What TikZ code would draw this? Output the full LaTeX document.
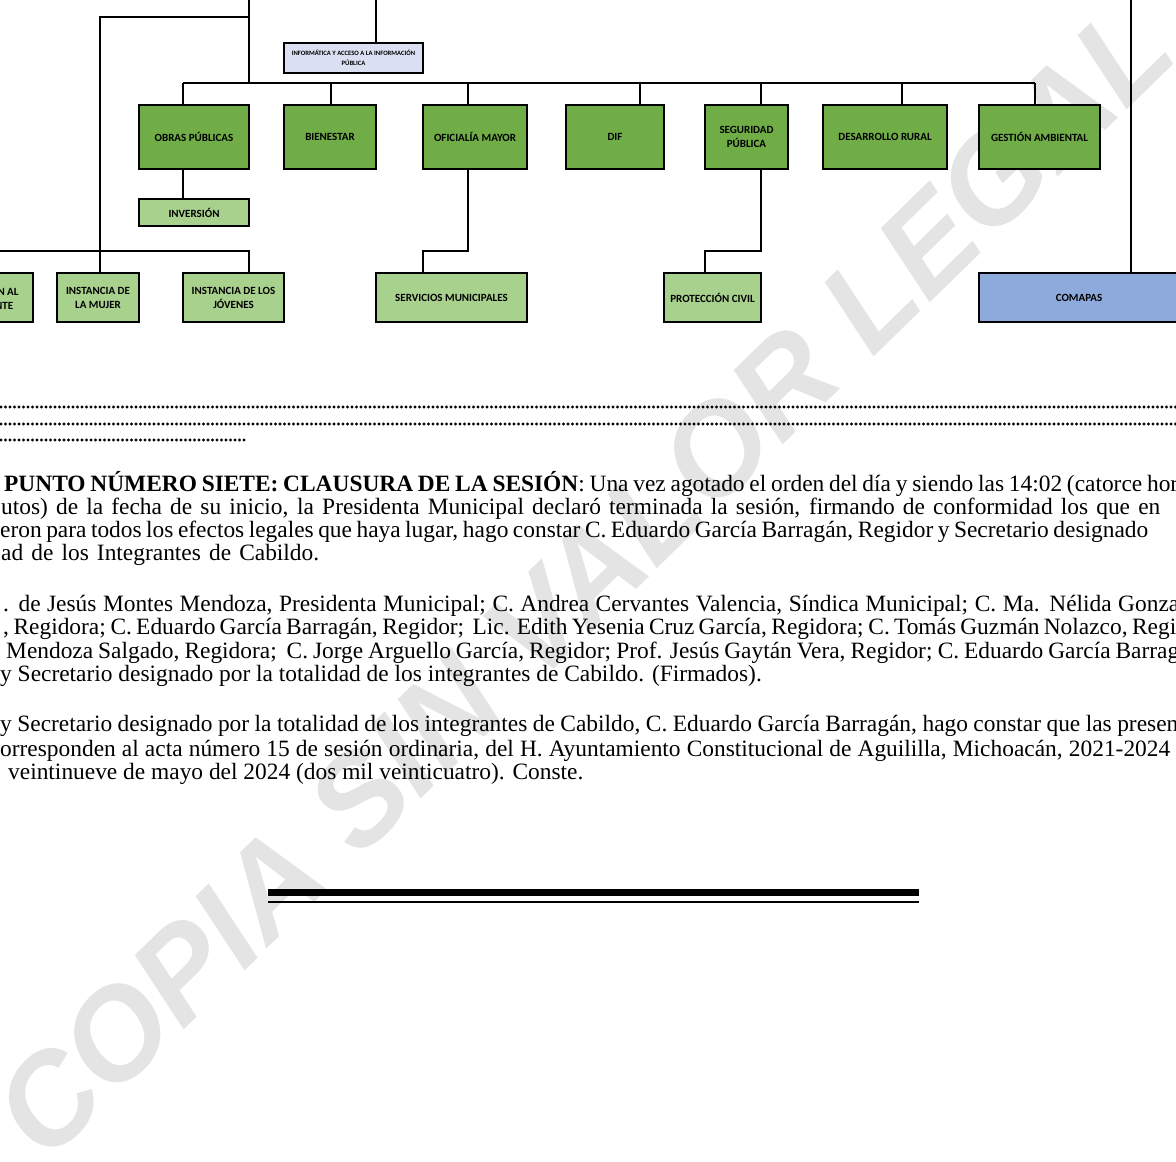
\documentclass[tikz,border=0pt]{standalone}
\usepackage{fontspec}
\setmainfont{Liberation Serif}
\newfontfamily\chartfont{Carlito}
\newfontfamily\markfont{Liberation Sans}
\definecolor{dkgreen}{HTML}{70AD47}
\definecolor{ltgreen}{HTML}{A9D18E}
\definecolor{lavend}{HTML}{DAE0F2}
\definecolor{comblue}{HTML}{8EA9DB}
\definecolor{markgray}{HTML}{E4E4E4}
\newcommand{\fitline}[2]{\makebox[#1pt][s]{#2}}
\tikzset{
  orgbox/.style={draw=black, line width=1.3pt, inner sep=0pt, align=center,
    font=\chartfont\bfseries\fontsize{11}{14}\selectfont},
  mainbox/.style={orgbox, fill=dkgreen, minimum height=64pt},
  subbox/.style={orgbox, fill=ltgreen},
  link/.style={line width=1.3pt},
  dotline/.style={line width=3.2pt, line cap=round, dash pattern=on 0pt off 4.5pt},
  txtline/.style={anchor=base west, inner sep=0pt, font=\fontsize{23.4}{23}\selectfont}
}
\begin{document}
\begin{tikzpicture}[x=1pt, y=-1pt]
	\useasboundingbox (0,0) rectangle (1176,1162);
	\clip (0,0) rectangle (1176,1162);
	% watermark
	\node[rotate=44.3, inner sep=0pt, text=markgray,
	  font=\markfont\bfseries\itshape\fontsize{127}{127}\selectfont] (wm) at (583,580) {COPIA SIN VALOR LEGAL};
	% free ends coming from above
	\coordinate (upA) at (249,0);
	\coordinate (upB) at (376,0);
	\coordinate (upC) at (1131,0);
	\coordinate (side) at (100,17);
	\coordinate (busW) at (183,83);
	\coordinate (busE) at (1035,83);
	\coordinate (lowW) at (0,251);
	% boxes
	\node[orgbox, fill=lavend, minimum width=139pt, minimum height=30pt,
	  font=\chartfont\bfseries\fontsize{6.6}{9.5}\selectfont] (inf) at (353.5,58) {INFORMÁTICA Y ACCESO A LA INFORMACIÓN\\PÚBLICA};
	\node[mainbox, minimum width=110pt] (obras) at (194,137) {OBRAS PÚBLICAS};
	\node[mainbox, minimum width=92pt] (bien) at (330,137) {BIENESTAR};
	\node[mainbox, minimum width=104pt] (ofic) at (475,137) {OFICIALÍA MAYOR};
	\node[mainbox, minimum width=98pt] (dif) at (615,137) {DIF};
	\node[mainbox, minimum width=83pt] (segu) at (746.5,137) {SEGURIDAD\\PÚBLICA};
	\node[mainbox, minimum width=124pt] (rural) at (885,137) {DESARROLLO RURAL};
	\node[mainbox, minimum width=121pt] (gest) at (1039.5,137) {GESTIÓN AMBIENTAL};
	\node[subbox, minimum width=110pt, minimum height=27pt] (inver) at (194,212.5) {INVERSIÓN};
	\node[subbox, minimum width=90pt, minimum height=49pt] (migr) at (-12,297.5) {ATENCIÓN AL\\MIGRANTE};
	\node[subbox, minimum width=82pt, minimum height=49pt] (mujer) at (98,297.5) {INSTANCIA DE\\LA MUJER};
	\node[subbox, minimum width=101pt, minimum height=49pt] (joven) at (233.5,297.5) {INSTANCIA DE LOS\\JÓVENES};
	\node[subbox, minimum width=151pt, minimum height=49pt] (serv) at (451.5,297.5) {SERVICIOS MUNICIPALES};
	\node[subbox, minimum width=97pt, minimum height=49pt] (prot) at (712.5,297.5) {PROTECCIÓN CIVIL};
	\node[orgbox, fill=comblue, minimum width=200pt, minimum height=49pt] (comapas) at (1079,297.5) {COMAPAS};
	% connectors
	\draw[link] (upA) -- (upA |- busW);
	\draw[link] (upA |- side) -- (side) -- (side |- mujer.north);
	\draw[link] (lowW) -- (lowW -| upA) -- (upA |- joven.north);
	\draw[link] (upB) -- (upB |- inf.north);
	\draw[link] (upC) -- (upC |- comapas.north);
	\draw[link] (busW) -- (busE);
	\foreach \b/\x in {obras/183, bien/331, ofic/468, dif/640, segu/761, rural/902, gest/1035}
		\draw[link] (\x,83) -- (\x,0 |- \b.north);
	\draw[link] (183,0 |- obras.south) -- (183,0 |- inver.north);
	\draw[link] (468,0 |- ofic.south) -- (468,251) -- (423,251) -- (423,0 |- serv.north);
	\draw[link] (761,0 |- segu.south) -- (761,251) -- (705,251) -- (705,0 |- prot.north);
	% dotted rows
	\draw[dotline] (1,407) -- (1176,407);
	\draw[dotline] (1,424) -- (1176,424);
	\draw[dotline] (1,440) -- (245,440);
	% text
	\node[txtline] (l1) at (4,491) {\fitline{1174}{\textbf{PUNTO NÚMERO SIETE: CLAUSURA DE LA SESIÓN}: Una vez agotado el orden del día y siendo las 14:02 (catorce hor}};
	\node[txtline] (l2) at (1,514) {\fitline{1159}{utos) de la fecha de su inicio, la Presidenta Municipal declaró terminada la sesión, firmando de conformidad los que en}};
	\node[txtline] (l3) at (0,537) {\fitline{1148}{eron para todos los efectos legales que haya lugar, hago constar C. Eduardo García Barragán, Regidor y Secretario designado}};
	\node[txtline] (l4) at (1,560) {\fitline{318}{ad de los Integrantes de Cabildo.}};
	\node[txtline] (l5) at (3,611) {\fitline{1176}{. de Jesús Montes Mendoza, Presidenta Municipal; C. Andrea Cervantes Valencia, Síndica Municipal; C. Ma. Nélida Gonza}};
	\node[txtline] (l6) at (3,634) {\fitline{1173}{, Regidora; C. Eduardo García Barragán, Regidor;\ \ Lic. Edith Yesenia Cruz García, Regidora; C. Tomás Guzmán Nolazco, Regi}};
	\node[txtline] (l7) at (6,658) {\fitline{1173}{Mendoza Salgado, Regidora;\ \ C. Jorge Arguello García, Regidor; Prof. Jesús Gaytán Vera, Regidor; C. Eduardo García Barrag}};
	\node[txtline] (l8) at (0,681) {y Secretario designado por la totalidad de los integrantes de Cabildo. (Firmados).};
	\node[txtline] (l9) at (0,731) {\fitline{1178}{y Secretario designado por la totalidad de los integrantes de Cabildo, C. Eduardo García Barragán, hago constar que las presen}};
	\node[txtline] (l10) at (0,756) {\fitline{1170}{orresponden al acta número 15 de sesión ordinaria, del H. Ayuntamiento Constitucional de Aguililla, Michoacán, 2021-2024}};
	\node[txtline] (l11) at (8,779) {veintinueve de mayo del 2024 (dos mil veinticuatro). Conste.};
	% closing rule
	\coordinate (ruleW) at (268,892.5);
	\coordinate (ruleE) at (919,892.5);
	\draw[line width=6.5pt] (ruleW) -- (ruleE);
	\draw[line width=1.4pt] ([yshift=-9.5pt]ruleW) -- ([yshift=-9.5pt]ruleE);
\end{tikzpicture}
\end{document}
